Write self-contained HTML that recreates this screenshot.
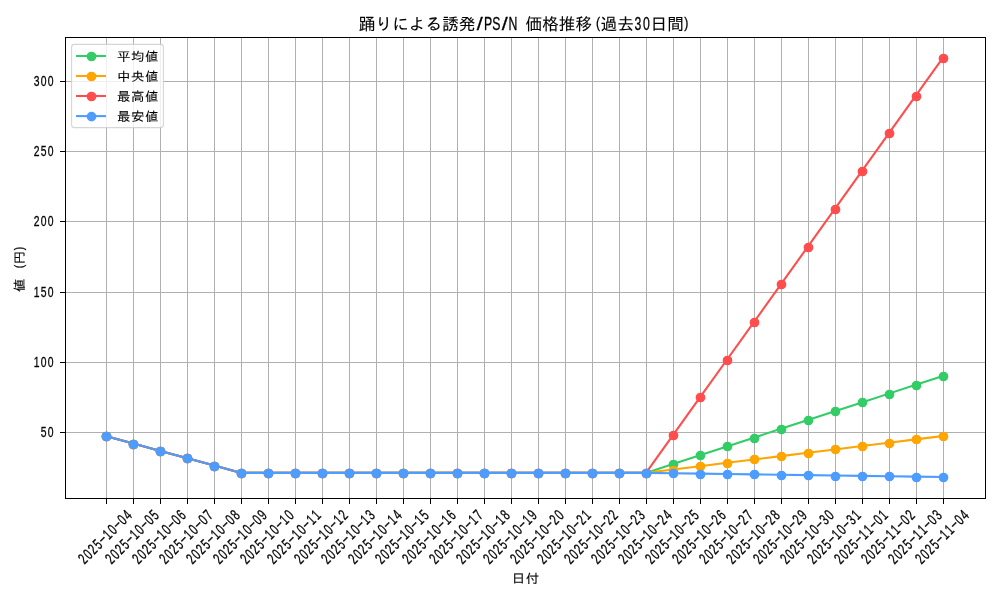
<!DOCTYPE html>
<html lang="ja"><head><meta charset="utf-8"><title>踊りによる誘発/PS/N 価格推移(過去30日間)</title>
<style>html,body{margin:0;padding:0;background:#fff;overflow:hidden}svg{display:block}text{font-family:'Liberation Sans', 'IPAGothic', 'Noto Sans CJK JP', sans-serif;fill:#000;text-anchor:middle;stroke:#000;white-space:pre}.l{stroke-width:0.3}.c{stroke-width:0.1}</style></head><body>
<svg width="1000" height="600" viewBox="0 0 1000 600">
<rect width="1000" height="600" fill="#fff"/>
<path d="M106.5 37.5V498.5M133.5 37.5V498.5M160.5 37.5V498.5M187.5 37.5V498.5M214.5 37.5V498.5M241.5 37.5V498.5M268.5 37.5V498.5M295.5 37.5V498.5M322.5 37.5V498.5M349.5 37.5V498.5M376.5 37.5V498.5M403.5 37.5V498.5M430.5 37.5V498.5M457.5 37.5V498.5M484.5 37.5V498.5M511.5 37.5V498.5M538.5 37.5V498.5M565.5 37.5V498.5M592.5 37.5V498.5M619.5 37.5V498.5M646.5 37.5V498.5M673.5 37.5V498.5M700.5 37.5V498.5M727.5 37.5V498.5M754.5 37.5V498.5M781.5 37.5V498.5M808.5 37.5V498.5M835.5 37.5V498.5M862.5 37.5V498.5M889.5 37.5V498.5M916.5 37.5V498.5M943.5 37.5V498.5M65.5 432.5H985.5M65.5 362.5H985.5M65.5 292.5H985.5M65.5 221.5H985.5M65.5 151.5H985.5M65.5 81.5H985.5" stroke="#b0b0b0" stroke-width="1.11" fill="none" shape-rendering="crispEdges"/>
<g fill="none" stroke-width="2.08" stroke-linejoin="round" stroke-linecap="square">
<g stroke="#33cc66"><polyline points="106.42,436.2 133.4,443.54 160.38,450.88 187.36,458.22 214.34,465.56 241.31,472.9 268.29,472.9 295.27,472.9 322.25,472.9 349.23,472.9 376.21,472.9 403.19,472.9 430.17,472.9 457.15,472.9 484.13,472.9 511.11,472.9 538.08,472.9 565.06,472.9 592.04,472.9 619.02,472.9 646,472.9 672.98,464.09 699.96,455.28 726.94,446.47 753.92,437.66 780.89,428.85 807.87,420.05 834.85,411.24 861.83,402.43 888.81,393.62 915.79,384.81 942.77,376"/>
<g fill="#33cc66" stroke-width="1.39"><circle cx="106.5" cy="436.5" r="4.17"/><circle cx="133.5" cy="444.5" r="4.17"/><circle cx="160.5" cy="451.5" r="4.17"/><circle cx="187.5" cy="458.5" r="4.17"/><circle cx="214.5" cy="466.5" r="4.17"/><circle cx="241.5" cy="473.5" r="4.17"/><circle cx="268.5" cy="473.5" r="4.17"/><circle cx="295.5" cy="473.5" r="4.17"/><circle cx="322.5" cy="473.5" r="4.17"/><circle cx="349.5" cy="473.5" r="4.17"/><circle cx="376.5" cy="473.5" r="4.17"/><circle cx="403.5" cy="473.5" r="4.17"/><circle cx="430.5" cy="473.5" r="4.17"/><circle cx="457.5" cy="473.5" r="4.17"/><circle cx="484.5" cy="473.5" r="4.17"/><circle cx="511.5" cy="473.5" r="4.17"/><circle cx="538.5" cy="473.5" r="4.17"/><circle cx="565.5" cy="473.5" r="4.17"/><circle cx="592.5" cy="473.5" r="4.17"/><circle cx="619.5" cy="473.5" r="4.17"/><circle cx="646.5" cy="473.5" r="4.17"/><circle cx="673.5" cy="464.5" r="4.17"/><circle cx="700.5" cy="455.5" r="4.17"/><circle cx="727.5" cy="446.5" r="4.17"/><circle cx="754.5" cy="438.5" r="4.17"/><circle cx="781.5" cy="429.5" r="4.17"/><circle cx="808.5" cy="420.5" r="4.17"/><circle cx="835.5" cy="411.5" r="4.17"/><circle cx="862.5" cy="402.5" r="4.17"/><circle cx="889.5" cy="394.5" r="4.17"/><circle cx="916.5" cy="385.5" r="4.17"/><circle cx="943.5" cy="376.5" r="4.17"/></g></g>
<g stroke="#ffa500"><polyline points="106.42,436.2 133.4,443.54 160.38,450.88 187.36,458.22 214.34,465.56 241.31,472.9 268.29,472.9 295.27,472.9 322.25,472.9 349.23,472.9 376.21,472.9 403.19,472.9 430.17,472.9 457.15,472.9 484.13,472.9 511.11,472.9 538.08,472.9 565.06,472.9 592.04,472.9 619.02,472.9 646,472.9 672.98,469.55 699.96,466.19 726.94,462.84 753.92,459.48 780.89,456.13 807.87,452.77 834.85,449.42 861.83,446.06 888.81,442.71 915.79,439.35 942.77,436"/>
<g fill="#ffa500" stroke-width="1.39"><circle cx="106.5" cy="436.5" r="4.17"/><circle cx="133.5" cy="444.5" r="4.17"/><circle cx="160.5" cy="451.5" r="4.17"/><circle cx="187.5" cy="458.5" r="4.17"/><circle cx="214.5" cy="466.5" r="4.17"/><circle cx="241.5" cy="473.5" r="4.17"/><circle cx="268.5" cy="473.5" r="4.17"/><circle cx="295.5" cy="473.5" r="4.17"/><circle cx="322.5" cy="473.5" r="4.17"/><circle cx="349.5" cy="473.5" r="4.17"/><circle cx="376.5" cy="473.5" r="4.17"/><circle cx="403.5" cy="473.5" r="4.17"/><circle cx="430.5" cy="473.5" r="4.17"/><circle cx="457.5" cy="473.5" r="4.17"/><circle cx="484.5" cy="473.5" r="4.17"/><circle cx="511.5" cy="473.5" r="4.17"/><circle cx="538.5" cy="473.5" r="4.17"/><circle cx="565.5" cy="473.5" r="4.17"/><circle cx="592.5" cy="473.5" r="4.17"/><circle cx="619.5" cy="473.5" r="4.17"/><circle cx="646.5" cy="473.5" r="4.17"/><circle cx="673.5" cy="470.5" r="4.17"/><circle cx="700.5" cy="466.5" r="4.17"/><circle cx="727.5" cy="463.5" r="4.17"/><circle cx="754.5" cy="459.5" r="4.17"/><circle cx="781.5" cy="456.5" r="4.17"/><circle cx="808.5" cy="453.5" r="4.17"/><circle cx="835.5" cy="449.5" r="4.17"/><circle cx="862.5" cy="446.5" r="4.17"/><circle cx="889.5" cy="443.5" r="4.17"/><circle cx="916.5" cy="439.5" r="4.17"/><circle cx="943.5" cy="436.5" r="4.17"/></g></g>
<g stroke="#ff4d4d"><polyline points="106.42,436.2 133.4,443.54 160.38,450.88 187.36,458.22 214.34,465.56 241.31,472.9 268.29,472.9 295.27,472.9 322.25,472.9 349.23,472.9 376.21,472.9 403.19,472.9 430.17,472.9 457.15,472.9 484.13,472.9 511.11,472.9 538.08,472.9 565.06,472.9 592.04,472.9 619.02,472.9 646,472.9 672.98,435.18 699.96,397.46 726.94,359.75 753.92,322.03 780.89,284.31 807.87,246.59 834.85,208.87 861.83,171.15 888.81,133.44 915.79,95.72 942.77,58"/>
<g fill="#ff4d4d" stroke-width="1.39"><circle cx="106.5" cy="436.5" r="4.17"/><circle cx="133.5" cy="444.5" r="4.17"/><circle cx="160.5" cy="451.5" r="4.17"/><circle cx="187.5" cy="458.5" r="4.17"/><circle cx="214.5" cy="466.5" r="4.17"/><circle cx="241.5" cy="473.5" r="4.17"/><circle cx="268.5" cy="473.5" r="4.17"/><circle cx="295.5" cy="473.5" r="4.17"/><circle cx="322.5" cy="473.5" r="4.17"/><circle cx="349.5" cy="473.5" r="4.17"/><circle cx="376.5" cy="473.5" r="4.17"/><circle cx="403.5" cy="473.5" r="4.17"/><circle cx="430.5" cy="473.5" r="4.17"/><circle cx="457.5" cy="473.5" r="4.17"/><circle cx="484.5" cy="473.5" r="4.17"/><circle cx="511.5" cy="473.5" r="4.17"/><circle cx="538.5" cy="473.5" r="4.17"/><circle cx="565.5" cy="473.5" r="4.17"/><circle cx="592.5" cy="473.5" r="4.17"/><circle cx="619.5" cy="473.5" r="4.17"/><circle cx="646.5" cy="473.5" r="4.17"/><circle cx="673.5" cy="435.5" r="4.17"/><circle cx="700.5" cy="397.5" r="4.17"/><circle cx="727.5" cy="360.5" r="4.17"/><circle cx="754.5" cy="322.5" r="4.17"/><circle cx="781.5" cy="284.5" r="4.17"/><circle cx="808.5" cy="247.5" r="4.17"/><circle cx="835.5" cy="209.5" r="4.17"/><circle cx="862.5" cy="171.5" r="4.17"/><circle cx="889.5" cy="133.5" r="4.17"/><circle cx="916.5" cy="96.5" r="4.17"/><circle cx="943.5" cy="58.5" r="4.17"/></g></g>
<g stroke="#4d9cff"><polyline points="106.42,436.2 133.4,443.54 160.38,450.88 187.36,458.22 214.34,465.56 241.31,472.9 268.29,472.9 295.27,472.9 322.25,472.9 349.23,472.9 376.21,472.9 403.19,472.9 430.17,472.9 457.15,472.9 484.13,472.9 511.11,472.9 538.08,472.9 565.06,472.9 592.04,472.9 619.02,472.9 646,472.9 672.98,473.27 699.96,473.65 726.94,474.02 753.92,474.39 780.89,474.76 807.87,475.14 834.85,475.51 861.83,475.88 888.81,476.25 915.79,476.63 942.77,477"/>
<g fill="#4d9cff" stroke-width="1.39"><circle cx="106.5" cy="436.5" r="4.17"/><circle cx="133.5" cy="444.5" r="4.17"/><circle cx="160.5" cy="451.5" r="4.17"/><circle cx="187.5" cy="458.5" r="4.17"/><circle cx="214.5" cy="466.5" r="4.17"/><circle cx="241.5" cy="473.5" r="4.17"/><circle cx="268.5" cy="473.5" r="4.17"/><circle cx="295.5" cy="473.5" r="4.17"/><circle cx="322.5" cy="473.5" r="4.17"/><circle cx="349.5" cy="473.5" r="4.17"/><circle cx="376.5" cy="473.5" r="4.17"/><circle cx="403.5" cy="473.5" r="4.17"/><circle cx="430.5" cy="473.5" r="4.17"/><circle cx="457.5" cy="473.5" r="4.17"/><circle cx="484.5" cy="473.5" r="4.17"/><circle cx="511.5" cy="473.5" r="4.17"/><circle cx="538.5" cy="473.5" r="4.17"/><circle cx="565.5" cy="473.5" r="4.17"/><circle cx="592.5" cy="473.5" r="4.17"/><circle cx="619.5" cy="473.5" r="4.17"/><circle cx="646.5" cy="473.5" r="4.17"/><circle cx="673.5" cy="473.5" r="4.17"/><circle cx="700.5" cy="474.5" r="4.17"/><circle cx="727.5" cy="474.5" r="4.17"/><circle cx="754.5" cy="474.5" r="4.17"/><circle cx="781.5" cy="475.5" r="4.17"/><circle cx="808.5" cy="475.5" r="4.17"/><circle cx="835.5" cy="476.5" r="4.17"/><circle cx="862.5" cy="476.5" r="4.17"/><circle cx="889.5" cy="476.5" r="4.17"/><circle cx="916.5" cy="477.5" r="4.17"/><circle cx="943.5" cy="477.5" r="4.17"/></g></g>
</g>
<path d="M106.5 498.5v5.5M133.5 498.5v5.5M160.5 498.5v5.5M187.5 498.5v5.5M214.5 498.5v5.5M241.5 498.5v5.5M268.5 498.5v5.5M295.5 498.5v5.5M322.5 498.5v5.5M349.5 498.5v5.5M376.5 498.5v5.5M403.5 498.5v5.5M430.5 498.5v5.5M457.5 498.5v5.5M484.5 498.5v5.5M511.5 498.5v5.5M538.5 498.5v5.5M565.5 498.5v5.5M592.5 498.5v5.5M619.5 498.5v5.5M646.5 498.5v5.5M673.5 498.5v5.5M700.5 498.5v5.5M727.5 498.5v5.5M754.5 498.5v5.5M781.5 498.5v5.5M808.5 498.5v5.5M835.5 498.5v5.5M862.5 498.5v5.5M889.5 498.5v5.5M916.5 498.5v5.5M943.5 498.5v5.5M65.5 432.5h-5.5M65.5 362.5h-5.5M65.5 292.5h-5.5M65.5 221.5h-5.5M65.5 151.5h-5.5M65.5 81.5h-5.5" stroke="#000" stroke-width="1.11" fill="none" shape-rendering="crispEdges"/>
<rect x="65.5" y="37.5" width="920" height="461" fill="none" stroke="#000" stroke-width="1.11" shape-rendering="crispEdges"/>
<text class="l" transform="translate(54.1,437) scale(0.67,1)" font-size="15.5" x="-15.55 -5.18">50</text>
<text class="l" transform="translate(54.1,367) scale(0.67,1)" font-size="15.5" x="-25.91 -15.55 -5.18">100</text>
<text class="l" transform="translate(54.1,297) scale(0.67,1)" font-size="15.5" x="-25.91 -15.55 -5.18">150</text>
<text class="l" transform="translate(54.1,226) scale(0.67,1)" font-size="15.5" x="-25.91 -15.55 -5.18">200</text>
<text class="l" transform="translate(54.1,156) scale(0.67,1)" font-size="15.5" x="-25.91 -15.55 -5.18">250</text>
<text class="l" transform="translate(54.1,86) scale(0.67,1)" font-size="15.5" x="-25.91 -15.55 -5.18">300</text>
<text class="l" transform="translate(84.1,565.2) rotate(-45) scale(0.67,1)" font-size="15.5" x="5.18 15.55 25.91 36.28 46.65 57.01 67.38 77.74 88.11 98.47">2025<tspan dy="-1.39" textLength="10.78" lengthAdjust="spacingAndGlyphs">-</tspan><tspan dy="1.39">10</tspan><tspan dy="-1.39" textLength="10.78" lengthAdjust="spacingAndGlyphs">-</tspan><tspan dy="1.39">04</tspan></text>
<text class="l" transform="translate(111.1,565.2) rotate(-45) scale(0.67,1)" font-size="15.5" x="5.18 15.55 25.91 36.28 46.65 57.01 67.38 77.74 88.11 98.47">2025<tspan dy="-1.39" textLength="10.78" lengthAdjust="spacingAndGlyphs">-</tspan><tspan dy="1.39">10</tspan><tspan dy="-1.39" textLength="10.78" lengthAdjust="spacingAndGlyphs">-</tspan><tspan dy="1.39">05</tspan></text>
<text class="l" transform="translate(138.1,565.2) rotate(-45) scale(0.67,1)" font-size="15.5" x="5.18 15.55 25.91 36.28 46.65 57.01 67.38 77.74 88.11 98.47">2025<tspan dy="-1.39" textLength="10.78" lengthAdjust="spacingAndGlyphs">-</tspan><tspan dy="1.39">10</tspan><tspan dy="-1.39" textLength="10.78" lengthAdjust="spacingAndGlyphs">-</tspan><tspan dy="1.39">06</tspan></text>
<text class="l" transform="translate(165.1,565.2) rotate(-45) scale(0.67,1)" font-size="15.5" x="5.18 15.55 25.91 36.28 46.65 57.01 67.38 77.74 88.11 98.47">2025<tspan dy="-1.39" textLength="10.78" lengthAdjust="spacingAndGlyphs">-</tspan><tspan dy="1.39">10</tspan><tspan dy="-1.39" textLength="10.78" lengthAdjust="spacingAndGlyphs">-</tspan><tspan dy="1.39">07</tspan></text>
<text class="l" transform="translate(192.1,565.2) rotate(-45) scale(0.67,1)" font-size="15.5" x="5.18 15.55 25.91 36.28 46.65 57.01 67.38 77.74 88.11 98.47">2025<tspan dy="-1.39" textLength="10.78" lengthAdjust="spacingAndGlyphs">-</tspan><tspan dy="1.39">10</tspan><tspan dy="-1.39" textLength="10.78" lengthAdjust="spacingAndGlyphs">-</tspan><tspan dy="1.39">08</tspan></text>
<text class="l" transform="translate(219.1,565.2) rotate(-45) scale(0.67,1)" font-size="15.5" x="5.18 15.55 25.91 36.28 46.65 57.01 67.38 77.74 88.11 98.47">2025<tspan dy="-1.39" textLength="10.78" lengthAdjust="spacingAndGlyphs">-</tspan><tspan dy="1.39">10</tspan><tspan dy="-1.39" textLength="10.78" lengthAdjust="spacingAndGlyphs">-</tspan><tspan dy="1.39">09</tspan></text>
<text class="l" transform="translate(246.1,565.2) rotate(-45) scale(0.67,1)" font-size="15.5" x="5.18 15.55 25.91 36.28 46.65 57.01 67.38 77.74 88.11 98.47">2025<tspan dy="-1.39" textLength="10.78" lengthAdjust="spacingAndGlyphs">-</tspan><tspan dy="1.39">10</tspan><tspan dy="-1.39" textLength="10.78" lengthAdjust="spacingAndGlyphs">-</tspan><tspan dy="1.39">10</tspan></text>
<text class="l" transform="translate(273.1,565.2) rotate(-45) scale(0.67,1)" font-size="15.5" x="5.18 15.55 25.91 36.28 46.65 57.01 67.38 77.74 88.11 98.47">2025<tspan dy="-1.39" textLength="10.78" lengthAdjust="spacingAndGlyphs">-</tspan><tspan dy="1.39">10</tspan><tspan dy="-1.39" textLength="10.78" lengthAdjust="spacingAndGlyphs">-</tspan><tspan dy="1.39">11</tspan></text>
<text class="l" transform="translate(300.1,565.2) rotate(-45) scale(0.67,1)" font-size="15.5" x="5.18 15.55 25.91 36.28 46.65 57.01 67.38 77.74 88.11 98.47">2025<tspan dy="-1.39" textLength="10.78" lengthAdjust="spacingAndGlyphs">-</tspan><tspan dy="1.39">10</tspan><tspan dy="-1.39" textLength="10.78" lengthAdjust="spacingAndGlyphs">-</tspan><tspan dy="1.39">12</tspan></text>
<text class="l" transform="translate(327.1,565.2) rotate(-45) scale(0.67,1)" font-size="15.5" x="5.18 15.55 25.91 36.28 46.65 57.01 67.38 77.74 88.11 98.47">2025<tspan dy="-1.39" textLength="10.78" lengthAdjust="spacingAndGlyphs">-</tspan><tspan dy="1.39">10</tspan><tspan dy="-1.39" textLength="10.78" lengthAdjust="spacingAndGlyphs">-</tspan><tspan dy="1.39">13</tspan></text>
<text class="l" transform="translate(354.1,565.2) rotate(-45) scale(0.67,1)" font-size="15.5" x="5.18 15.55 25.91 36.28 46.65 57.01 67.38 77.74 88.11 98.47">2025<tspan dy="-1.39" textLength="10.78" lengthAdjust="spacingAndGlyphs">-</tspan><tspan dy="1.39">10</tspan><tspan dy="-1.39" textLength="10.78" lengthAdjust="spacingAndGlyphs">-</tspan><tspan dy="1.39">14</tspan></text>
<text class="l" transform="translate(381.1,565.2) rotate(-45) scale(0.67,1)" font-size="15.5" x="5.18 15.55 25.91 36.28 46.65 57.01 67.38 77.74 88.11 98.47">2025<tspan dy="-1.39" textLength="10.78" lengthAdjust="spacingAndGlyphs">-</tspan><tspan dy="1.39">10</tspan><tspan dy="-1.39" textLength="10.78" lengthAdjust="spacingAndGlyphs">-</tspan><tspan dy="1.39">15</tspan></text>
<text class="l" transform="translate(408.1,565.2) rotate(-45) scale(0.67,1)" font-size="15.5" x="5.18 15.55 25.91 36.28 46.65 57.01 67.38 77.74 88.11 98.47">2025<tspan dy="-1.39" textLength="10.78" lengthAdjust="spacingAndGlyphs">-</tspan><tspan dy="1.39">10</tspan><tspan dy="-1.39" textLength="10.78" lengthAdjust="spacingAndGlyphs">-</tspan><tspan dy="1.39">16</tspan></text>
<text class="l" transform="translate(435.1,565.2) rotate(-45) scale(0.67,1)" font-size="15.5" x="5.18 15.55 25.91 36.28 46.65 57.01 67.38 77.74 88.11 98.47">2025<tspan dy="-1.39" textLength="10.78" lengthAdjust="spacingAndGlyphs">-</tspan><tspan dy="1.39">10</tspan><tspan dy="-1.39" textLength="10.78" lengthAdjust="spacingAndGlyphs">-</tspan><tspan dy="1.39">17</tspan></text>
<text class="l" transform="translate(462.1,565.2) rotate(-45) scale(0.67,1)" font-size="15.5" x="5.18 15.55 25.91 36.28 46.65 57.01 67.38 77.74 88.11 98.47">2025<tspan dy="-1.39" textLength="10.78" lengthAdjust="spacingAndGlyphs">-</tspan><tspan dy="1.39">10</tspan><tspan dy="-1.39" textLength="10.78" lengthAdjust="spacingAndGlyphs">-</tspan><tspan dy="1.39">18</tspan></text>
<text class="l" transform="translate(489.1,565.2) rotate(-45) scale(0.67,1)" font-size="15.5" x="5.18 15.55 25.91 36.28 46.65 57.01 67.38 77.74 88.11 98.47">2025<tspan dy="-1.39" textLength="10.78" lengthAdjust="spacingAndGlyphs">-</tspan><tspan dy="1.39">10</tspan><tspan dy="-1.39" textLength="10.78" lengthAdjust="spacingAndGlyphs">-</tspan><tspan dy="1.39">19</tspan></text>
<text class="l" transform="translate(516.1,565.2) rotate(-45) scale(0.67,1)" font-size="15.5" x="5.18 15.55 25.91 36.28 46.65 57.01 67.38 77.74 88.11 98.47">2025<tspan dy="-1.39" textLength="10.78" lengthAdjust="spacingAndGlyphs">-</tspan><tspan dy="1.39">10</tspan><tspan dy="-1.39" textLength="10.78" lengthAdjust="spacingAndGlyphs">-</tspan><tspan dy="1.39">20</tspan></text>
<text class="l" transform="translate(543.1,565.2) rotate(-45) scale(0.67,1)" font-size="15.5" x="5.18 15.55 25.91 36.28 46.65 57.01 67.38 77.74 88.11 98.47">2025<tspan dy="-1.39" textLength="10.78" lengthAdjust="spacingAndGlyphs">-</tspan><tspan dy="1.39">10</tspan><tspan dy="-1.39" textLength="10.78" lengthAdjust="spacingAndGlyphs">-</tspan><tspan dy="1.39">21</tspan></text>
<text class="l" transform="translate(570.1,565.2) rotate(-45) scale(0.67,1)" font-size="15.5" x="5.18 15.55 25.91 36.28 46.65 57.01 67.38 77.74 88.11 98.47">2025<tspan dy="-1.39" textLength="10.78" lengthAdjust="spacingAndGlyphs">-</tspan><tspan dy="1.39">10</tspan><tspan dy="-1.39" textLength="10.78" lengthAdjust="spacingAndGlyphs">-</tspan><tspan dy="1.39">22</tspan></text>
<text class="l" transform="translate(597.1,565.2) rotate(-45) scale(0.67,1)" font-size="15.5" x="5.18 15.55 25.91 36.28 46.65 57.01 67.38 77.74 88.11 98.47">2025<tspan dy="-1.39" textLength="10.78" lengthAdjust="spacingAndGlyphs">-</tspan><tspan dy="1.39">10</tspan><tspan dy="-1.39" textLength="10.78" lengthAdjust="spacingAndGlyphs">-</tspan><tspan dy="1.39">23</tspan></text>
<text class="l" transform="translate(624.1,565.2) rotate(-45) scale(0.67,1)" font-size="15.5" x="5.18 15.55 25.91 36.28 46.65 57.01 67.38 77.74 88.11 98.47">2025<tspan dy="-1.39" textLength="10.78" lengthAdjust="spacingAndGlyphs">-</tspan><tspan dy="1.39">10</tspan><tspan dy="-1.39" textLength="10.78" lengthAdjust="spacingAndGlyphs">-</tspan><tspan dy="1.39">24</tspan></text>
<text class="l" transform="translate(651.1,565.2) rotate(-45) scale(0.67,1)" font-size="15.5" x="5.18 15.55 25.91 36.28 46.65 57.01 67.38 77.74 88.11 98.47">2025<tspan dy="-1.39" textLength="10.78" lengthAdjust="spacingAndGlyphs">-</tspan><tspan dy="1.39">10</tspan><tspan dy="-1.39" textLength="10.78" lengthAdjust="spacingAndGlyphs">-</tspan><tspan dy="1.39">25</tspan></text>
<text class="l" transform="translate(678.1,565.2) rotate(-45) scale(0.67,1)" font-size="15.5" x="5.18 15.55 25.91 36.28 46.65 57.01 67.38 77.74 88.11 98.47">2025<tspan dy="-1.39" textLength="10.78" lengthAdjust="spacingAndGlyphs">-</tspan><tspan dy="1.39">10</tspan><tspan dy="-1.39" textLength="10.78" lengthAdjust="spacingAndGlyphs">-</tspan><tspan dy="1.39">26</tspan></text>
<text class="l" transform="translate(705.1,565.2) rotate(-45) scale(0.67,1)" font-size="15.5" x="5.18 15.55 25.91 36.28 46.65 57.01 67.38 77.74 88.11 98.47">2025<tspan dy="-1.39" textLength="10.78" lengthAdjust="spacingAndGlyphs">-</tspan><tspan dy="1.39">10</tspan><tspan dy="-1.39" textLength="10.78" lengthAdjust="spacingAndGlyphs">-</tspan><tspan dy="1.39">27</tspan></text>
<text class="l" transform="translate(732.1,565.2) rotate(-45) scale(0.67,1)" font-size="15.5" x="5.18 15.55 25.91 36.28 46.65 57.01 67.38 77.74 88.11 98.47">2025<tspan dy="-1.39" textLength="10.78" lengthAdjust="spacingAndGlyphs">-</tspan><tspan dy="1.39">10</tspan><tspan dy="-1.39" textLength="10.78" lengthAdjust="spacingAndGlyphs">-</tspan><tspan dy="1.39">28</tspan></text>
<text class="l" transform="translate(759.1,565.2) rotate(-45) scale(0.67,1)" font-size="15.5" x="5.18 15.55 25.91 36.28 46.65 57.01 67.38 77.74 88.11 98.47">2025<tspan dy="-1.39" textLength="10.78" lengthAdjust="spacingAndGlyphs">-</tspan><tspan dy="1.39">10</tspan><tspan dy="-1.39" textLength="10.78" lengthAdjust="spacingAndGlyphs">-</tspan><tspan dy="1.39">29</tspan></text>
<text class="l" transform="translate(786.1,565.2) rotate(-45) scale(0.67,1)" font-size="15.5" x="5.18 15.55 25.91 36.28 46.65 57.01 67.38 77.74 88.11 98.47">2025<tspan dy="-1.39" textLength="10.78" lengthAdjust="spacingAndGlyphs">-</tspan><tspan dy="1.39">10</tspan><tspan dy="-1.39" textLength="10.78" lengthAdjust="spacingAndGlyphs">-</tspan><tspan dy="1.39">30</tspan></text>
<text class="l" transform="translate(813.1,565.2) rotate(-45) scale(0.67,1)" font-size="15.5" x="5.18 15.55 25.91 36.28 46.65 57.01 67.38 77.74 88.11 98.47">2025<tspan dy="-1.39" textLength="10.78" lengthAdjust="spacingAndGlyphs">-</tspan><tspan dy="1.39">10</tspan><tspan dy="-1.39" textLength="10.78" lengthAdjust="spacingAndGlyphs">-</tspan><tspan dy="1.39">31</tspan></text>
<text class="l" transform="translate(840.1,565.2) rotate(-45) scale(0.67,1)" font-size="15.5" x="5.18 15.55 25.91 36.28 46.65 57.01 67.38 77.74 88.11 98.47">2025<tspan dy="-1.39" textLength="10.78" lengthAdjust="spacingAndGlyphs">-</tspan><tspan dy="1.39">11</tspan><tspan dy="-1.39" textLength="10.78" lengthAdjust="spacingAndGlyphs">-</tspan><tspan dy="1.39">01</tspan></text>
<text class="l" transform="translate(867.1,565.2) rotate(-45) scale(0.67,1)" font-size="15.5" x="5.18 15.55 25.91 36.28 46.65 57.01 67.38 77.74 88.11 98.47">2025<tspan dy="-1.39" textLength="10.78" lengthAdjust="spacingAndGlyphs">-</tspan><tspan dy="1.39">11</tspan><tspan dy="-1.39" textLength="10.78" lengthAdjust="spacingAndGlyphs">-</tspan><tspan dy="1.39">02</tspan></text>
<text class="l" transform="translate(894.1,565.2) rotate(-45) scale(0.67,1)" font-size="15.5" x="5.18 15.55 25.91 36.28 46.65 57.01 67.38 77.74 88.11 98.47">2025<tspan dy="-1.39" textLength="10.78" lengthAdjust="spacingAndGlyphs">-</tspan><tspan dy="1.39">11</tspan><tspan dy="-1.39" textLength="10.78" lengthAdjust="spacingAndGlyphs">-</tspan><tspan dy="1.39">03</tspan></text>
<text class="l" transform="translate(921.1,565.2) rotate(-45) scale(0.67,1)" font-size="15.5" x="5.18 15.55 25.91 36.28 46.65 57.01 67.38 77.74 88.11 98.47">2025<tspan dy="-1.39" textLength="10.78" lengthAdjust="spacingAndGlyphs">-</tspan><tspan dy="1.39">11</tspan><tspan dy="-1.39" textLength="10.78" lengthAdjust="spacingAndGlyphs">-</tspan><tspan dy="1.39">04</tspan></text>
<text class="c" transform="translate(525.5,582.5) scale(1,0.93)" font-size="13.5" x="-6.95 6.95">日付</text>
<g aria-label="値 (円)"><text class="c" transform="translate(24.4,268) rotate(-90) scale(1,0.93)" font-size="13.5" x="-17.36">値</text><text class="l" transform="translate(24.4,268) rotate(-90) scale(0.8,1)" font-size="12.78" x="-8.68 1.74" dy="-1.25"> (</text><text class="c" transform="translate(24.4,268) rotate(-90) scale(1,0.93)" font-size="13.5" x="10.42">円</text><text class="l" transform="translate(24.4,268) rotate(-90) scale(0.8,1)" font-size="12.78" x="24.31" dy="-1.25">)</text></g>
<g aria-label="踊りによる誘発/PS/N 価格推移(過去30日間)"><text class="c" transform="translate(525.5,29.6)" font-size="16.67" x="-158.37 -141.7 -125.03 -108.36 -91.69 -75.02 -58.35">踊りによる誘発</text><text class="l" transform="translate(525.5,29.6) scale(0.66,1)" font-size="18.6" x="-69.46 -56.83 -44.2 -31.57 -18.94 -6.31"><tspan textLength="9.09" lengthAdjust="spacingAndGlyphs">/</tspan>PS<tspan textLength="9.09" lengthAdjust="spacingAndGlyphs">/</tspan>N </text><text class="c" transform="translate(525.5,29.6)" font-size="16.67" x="8.34 25.01 41.68 58.35">価格推移</text><text class="l" transform="translate(525.5,29.6) scale(0.8,1)" font-size="15.34" x="90.64" dy="-1.5">(</text><text class="c" transform="translate(525.5,29.6)" font-size="16.67" x="83.35 100.02">過去</text><text class="l" transform="translate(525.5,29.6) scale(0.66,1)" font-size="18.6" x="170.49 183.12">30</text><text class="c" transform="translate(525.5,29.6)" font-size="16.67" x="133.36 150.03">日間</text><text class="l" transform="translate(525.5,29.6) scale(0.8,1)" font-size="15.34" x="201.08" dy="-1.5">)</text></g>
<rect x="71.6" y="44.4" width="91.8" height="83.2" rx="2.8" fill="#fff" fill-opacity="0.8" stroke="#ccc" stroke-opacity="0.8" stroke-width="1.11"/>
<path d="M77.04 56H104.96" stroke="#33cc66" stroke-width="2.08" stroke-linecap="square"/>
<circle cx="91.5" cy="56.5" r="4.17" fill="#33cc66" stroke="#33cc66" stroke-width="1.39"/>
<text class="c" transform="translate(116.9,61) scale(1,0.93)" font-size="13.5" x="6.95 20.84 34.73">平均値</text>
<path d="M77.04 76H104.96" stroke="#ffa500" stroke-width="2.08" stroke-linecap="square"/>
<circle cx="91.5" cy="76.5" r="4.17" fill="#ffa500" stroke="#ffa500" stroke-width="1.39"/>
<text class="c" transform="translate(116.9,81) scale(1,0.93)" font-size="13.5" x="6.95 20.84 34.73">中央値</text>
<path d="M77.04 96H104.96" stroke="#ff4d4d" stroke-width="2.08" stroke-linecap="square"/>
<circle cx="91.5" cy="96.5" r="4.17" fill="#ff4d4d" stroke="#ff4d4d" stroke-width="1.39"/>
<text class="c" transform="translate(116.9,101) scale(1,0.93)" font-size="13.5" x="6.95 20.84 34.73">最高値</text>
<path d="M77.04 116.1H104.96" stroke="#4d9cff" stroke-width="2.08" stroke-linecap="square"/>
<circle cx="91.5" cy="116.6" r="4.17" fill="#4d9cff" stroke="#4d9cff" stroke-width="1.39"/>
<text class="c" transform="translate(116.9,121.1) scale(1,0.93)" font-size="13.5" x="6.95 20.84 34.73">最安値</text>
</svg></body></html>
